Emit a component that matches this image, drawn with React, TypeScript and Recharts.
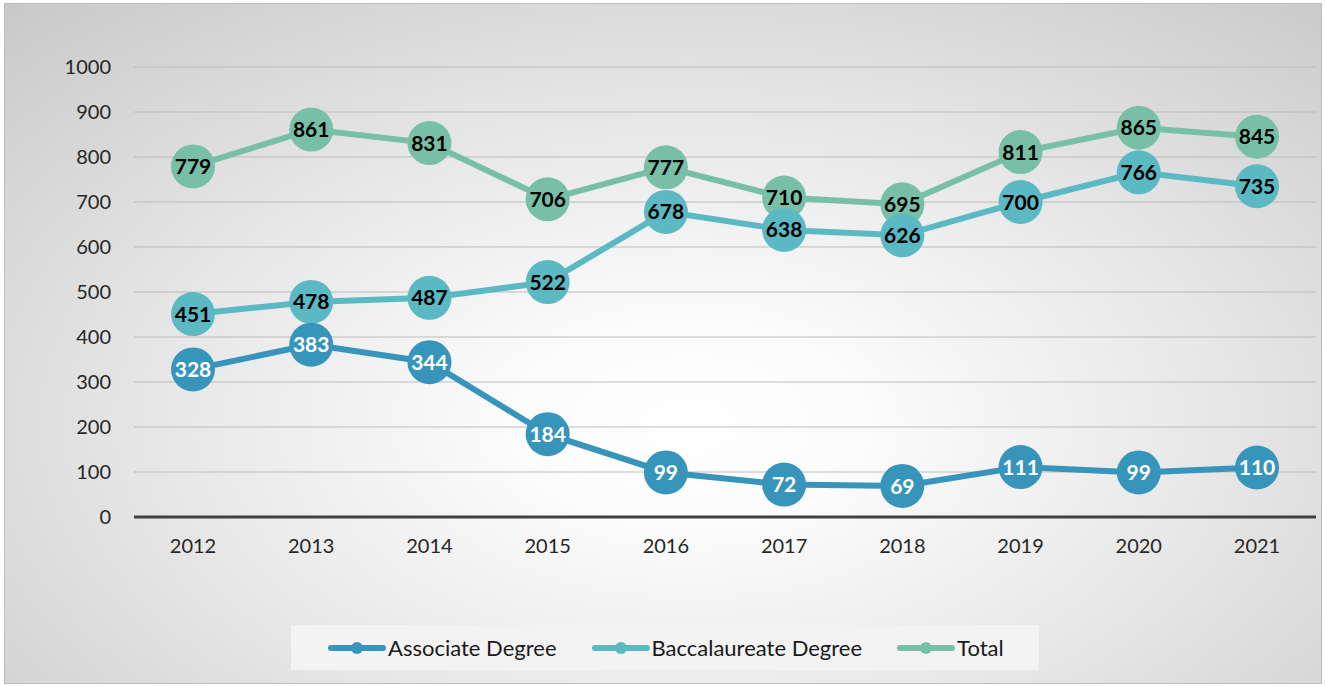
import React from "react";
import { LineChart, Line, XAxis, YAxis, CartesianGrid, LabelList } from "recharts";

const years = ["2012", "2013", "2014", "2015", "2016", "2017", "2018", "2019", "2020", "2021"];
const associate = [328, 383, 344, 184, 99, 72, 69, 111, 99, 110];
const baccalaureate = [451, 478, 487, 522, 678, 638, 626, 700, 766, 735];
const total = [779, 861, 831, 706, 777, 710, 695, 811, 865, 845];
const yTicks = [0, 100, 200, 300, 400, 500, 600, 700, 800, 900, 1000];

const series = [
  { key: "associate", name: "Associate Degree", color: "#3795bc", labelColor: "#ffffff" },
  { key: "baccalaureate", name: "Baccalaureate Degree", color: "#5bb9c3", labelColor: "#000000" },
  { key: "total", name: "Total", color: "#77c0a7", labelColor: "#000000" },
];

const data = years.map((year, i) => ({
  year,
  associate: associate[i],
  baccalaureate: baccalaureate[i],
  total: total[i],
}));

const FONT = "Lato, 'Open Sans', sans-serif";

const makeLabel = (fill: string) => (props: any) => {
  const { x, y, value } = props;
  return (
    <text
      x={x}
      y={y}
      dy="0.36em"
      textAnchor="middle"
      fill={fill}
      fontSize={21}
      fontWeight={700}
      fontFamily={FONT}
    >
      {value}
    </text>
  );
};

const App = () => {
  // draw order: Total underneath, Associate on top
  const drawOrder = [...series].reverse();
  return (
    <div style={{ position: "absolute", left: 0, top: 0, width: 1325, height: 686, fontFamily: FONT }}>
      <div
        style={{
          position: "absolute",
          left: 4,
          top: 3,
          width: 1316,
          height: 679,
          border: "1px solid #bdbdbd",
          background:
            "radial-gradient(ellipse 75% 85% at 52% 62%, #ffffff 0%, #fbfbfb 18%, #e6e6e6 55%, #c9c9c9 100%)",
        }}
      />
      <div style={{ position: "absolute", left: 0, top: 0 }}>
        <LineChart width={1325} height={686} data={data} margin={{ top: 67, right: 9, left: 0, bottom: 129 }}>
          <CartesianGrid vertical={false} stroke="#bcbcbc" strokeWidth={1.2} />
          <XAxis
            dataKey="year"
            height={40}
            padding={{ left: 59, right: 59 }}
            axisLine={{ stroke: "#404040", strokeWidth: 3 }}
            tickLine={false}
            tickSize={0}
            tickMargin={22}
            tick={{ fill: "#262626", fontSize: 20, fontFamily: FONT }}
          />
          <YAxis
            width={134}
            domain={[0, 1000]}
            ticks={yTicks}
            axisLine={false}
            tickLine={false}
            tickSize={0}
            tickMargin={23}
            tick={{ fill: "#262626", fontSize: 20, fontFamily: FONT }}
          />
          {drawOrder.map((s) => (
            <Line
              key={s.key}
              type="linear"
              dataKey={s.key}
              name={s.name}
              stroke={s.color}
              strokeWidth={6}
              dot={{ r: 22, fill: s.color, stroke: s.color, strokeWidth: 0 }}
              activeDot={false}
              isAnimationActive={false}
            >
              <LabelList dataKey={s.key} content={makeLabel(s.labelColor)} />
            </Line>
          ))}
        </LineChart>
      </div>
      <div
        style={{
          position: "absolute",
          left: 291,
          top: 625,
          width: 748,
          height: 45,
          background: "#f3f3f3",
          display: "flex",
          alignItems: "center",
        }}
      >
        {series.map((s, i) => (
          <div
            key={s.key}
            style={{ display: "flex", alignItems: "center", marginLeft: i === 0 ? 37 : 35 }}
          >
            <svg width={58} height={16}>
              <line x1={3} y1={8} x2={55} y2={8} stroke={s.color} strokeWidth={6} strokeLinecap="round" />
              <circle cx={29} cy={8} r={6} fill={s.color} />
            </svg>
            <span style={{ fontSize: 22, color: "#1a1a1a", marginLeft: 2 }}>{s.name}</span>
          </div>
        ))}
      </div>
    </div>
  );
};

export default App;
